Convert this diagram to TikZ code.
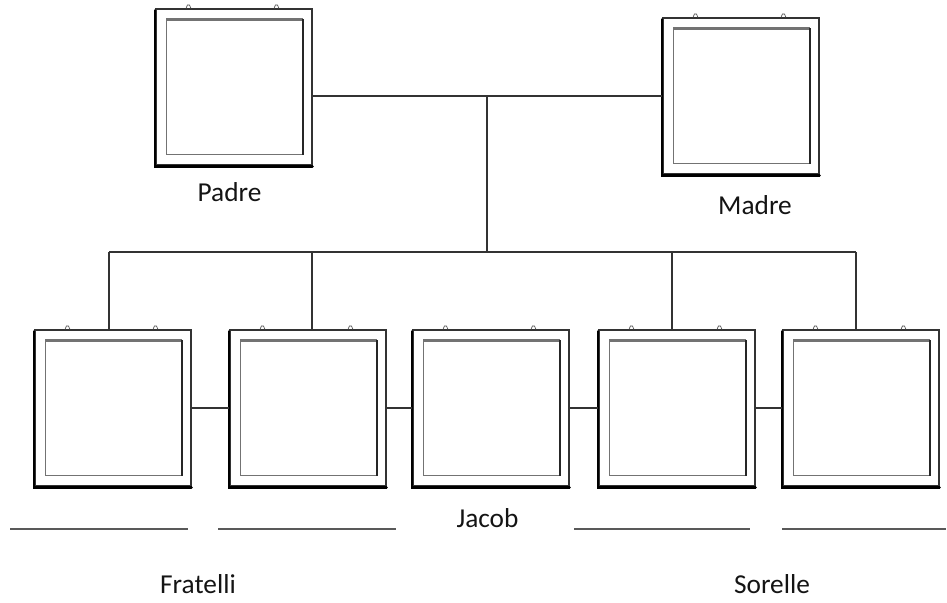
\documentclass[tikz,border=0pt]{standalone}
\usepackage{fontspec}
\setmainfont{Carlito}
\usetikzlibrary{calc}
\begin{document}
\begin{tikzpicture}[x=0.75pt,y=-0.75pt,
  picframe/.style={draw=black!80, line width=0.8pt, minimum width=117pt,
    minimum height=117pt, inner sep=0pt, fill=white},
  link/.style={draw=black!80, line width=1.1pt},
  blank/.style={draw=black!65, line width=1.2pt},
  lbl/.style={font=\fontsize{20.5}{24}\selectfont, text=black!92, anchor=base},
]
\useasboundingbox (0,0) rectangle (947,603);

% parents
\node[picframe] (padre) at (234,87) {};
\node[picframe] (madre) at (741,96) {};
% children row
\node[picframe] (f1) at (113,408) {};
\node[picframe] (f2) at (308,408) {};
\node[picframe] (f3) at (491,408) {};
\node[picframe] (f4) at (677,408) {};
\node[picframe] (f5) at (861,408) {};

% frame details: shadow edge, inner mat, hanging hooks
\foreach \n in {padre,madre,f1,f2,f3,f4,f5}{
  \draw[line width=2pt, black, line cap=round]
    ($(\n.north west)+(-0.5,2)$) -- ($(\n.south west)+(-0.5,1)$)
    -- ($(\n.south east)+(0,1)$);
  \draw[black!55, line width=0.8pt]
    ($(\n.north west)+(11,11)$) rectangle ($(\n.south east)+(-10,-11)$);
  \draw[black!55, line width=1.8pt]
    ($(\n.north west)+(11,11)$) -- ($(\n.north east)+(-10,11)$);
  \draw[black!85, line width=1.5pt]
    ($(\n.north east)+(-10,11)$) -- ($(\n.south east)+(-10,-11)$);
  \foreach \h in {33,121}{
    \draw[black!70, line width=0.5pt]
      ($(\n.north west)+(\h,0)+(-2.5,0)$) -- ++(1.5,-3.5) -- ++(2,0) -- ++(1.5,3.5);
  }
}

% parent link and family bus
\coordinate (join) at (487,96);
\coordinate (bus) at (487,252);
\coordinate (b1) at (109,252);
\coordinate (b2) at (312,252);
\coordinate (b4) at (672,252);
\coordinate (b5) at (856,252);

\draw[link] (padre.east |- madre.west) -- (madre.west);
\draw[link] (join) -- (bus);
\draw[link] (b1) -- (b5);
\draw[link] (b1) -- (b1 |- f1.north);
\draw[link] (b2) -- (b2 |- f2.north);
\draw[link] (b4) -- (b4 |- f4.north);
\draw[link] (b5) -- (b5 |- f5.north);

% sibling links
\draw[link] (f1) -- (f2);
\draw[link] (f2) -- (f3);
\draw[link] (f3) -- (f4);
\draw[link] (f4) -- (f5);

% blank name lines
\draw[blank] (10,529) -- (188,529);
\draw[blank] (218,529) -- (396,529);
\draw[blank] (574,529) -- (750,529);
\draw[blank] (782,529) -- (946,529);

% labels
\node[lbl] (tpadre) at (229.5,201) {Padre};
\node[lbl] (tmadre) at (755,214) {Madre};
\node[lbl] (tjacob) at (487.5,527) {Jacob};
\node[lbl] (tfratelli) at (198,593) {Fratelli};
\node[lbl] (tsorelle) at (772,593) {Sorelle};
\end{tikzpicture}
\end{document}
